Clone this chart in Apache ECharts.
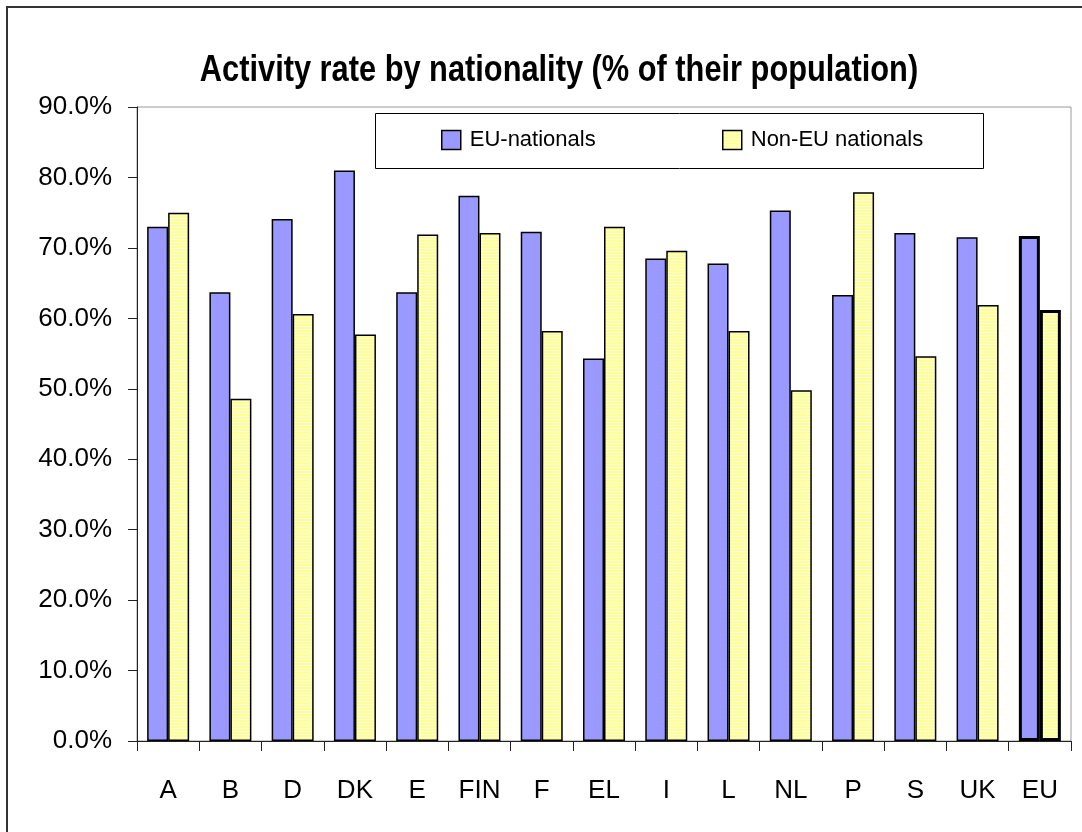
<!DOCTYPE html>
<html>
<head>
<meta charset="utf-8">
<script src="https://cdn.jsdelivr.net/npm/echarts@6/dist/echarts.min.js"></script>
<style>
html,body{margin:0;padding:0;background:#fff;}
#chart{width:1082px;height:832px;}
</style>
</head>
<body>
<div id="chart"></div>
<script>
var categories = ['A','B','D','DK','E','FIN','F','EL','I','L','NL','P','S','UK','EU'];
var euNationals = [73.0,63.7,74.1,81.0,63.7,77.4,72.3,54.3,68.5,67.8,75.3,63.3,72.1,71.5,71.7];
var nonEuNationals = [75.0,48.6,60.6,57.7,71.9,72.1,58.2,73.0,69.6,58.2,49.8,77.9,54.6,61.9,61.2];
var yTicks = [0,10,20,30,40,50,60,70,80,90];
var titleText = 'Activity rate by nationality (% of their population)';

var stripe = document.createElement('canvas');
stripe.width = 4; stripe.height = 3;
var sc = stripe.getContext('2d');
sc.fillStyle = '#FFFF99'; sc.fillRect(0,0,4,3);
sc.fillStyle = '#FFFFD6'; sc.fillRect(0,2,4,1);

var blue = '#9999FF';
var yellowPattern = {image: stripe, repeat: 'repeat'};
var lastIdx = categories.length - 1;

function mkData(arr){
  return arr.map(function(v,i){
    if(i === lastIdx){ return {value:v, itemStyle:{borderWidth:3}}; }
    return v;
  });
}

var chart = echarts.init(document.getElementById('chart'));
var font = "'Liberation Sans', Arial, sans-serif";
chart.setOption({
  animation: false,
  legend: [
    {data:[{name:'EU-nationals', itemStyle:{color:blue}}], icon:'rect', left: 441, top: 129, padding:0, itemWidth:19, itemHeight:19,
     textStyle:{fontFamily:font, fontSize:22, color:'#000', padding:[0,0,0,4]}, itemStyle:{borderColor:'#000', borderWidth:1.5}},
    {data:[{name:'Non-EU nationals', itemStyle:{color:yellowPattern}}], icon:'rect', left: 722, top: 129, padding:0, itemWidth:19, itemHeight:19,
     textStyle:{fontFamily:font, fontSize:22, color:'#000', padding:[0,0,0,4]}, itemStyle:{borderColor:'#000', borderWidth:1.5}}
  ],
  grid: {left:137, right:11, top:107, bottom:91, show:true, borderColor:'#999', borderWidth:1, containLabel:false},
  xAxis: {
    type:'category', data: categories,
    axisLine:{lineStyle:{color:'#222', width:1}},
    axisTick:{show:true, length:10, lineStyle:{color:'#222'}},
    axisLabel:{fontFamily:font, fontSize:26, color:'#000', margin:37}
  },
  yAxis: {
    type:'value', min: yTicks[0], max: yTicks[yTicks.length-1], interval: 10,
    axisLine:{show:true, lineStyle:{color:'#222', width:1}},
    axisTick:{show:true, length:9, lineStyle:{color:'#222'}},
    splitLine:{show:false},
    axisLabel:{fontFamily:font, fontSize:26, color:'#000', margin:25, formatter:function(v){return v.toFixed(1)+'%';}}
  },
  graphic: [
    {type:'rect', shape:{x:7, y:7, width:1100, height:850}, style:{fill:null, stroke:'#333', lineWidth:2}, silent:true, z:-1},
    {type:'rect', shape:{x:375.5, y:113.5, width:608, height:55}, style:{fill:'#fff', stroke:'#000', lineWidth:1}, silent:true, z:0},
    {type:'text', x:559, y:71, scaleX:0.855, scaleY:1, silent:true,
     style:{text:titleText, font:"bold 36px 'Liberation Sans', Arial, sans-serif", fill:'#000', textAlign:'center', textVerticalAlign:'middle'}}
  ],
  series: [
    {name:'EU-nationals', type:'bar', data: mkData(euNationals), barWidth:21, barGap:'0%',
     itemStyle:{color:blue, borderColor:'#000', borderWidth:1.5}},
    {name:'Non-EU nationals', type:'bar', data: mkData(nonEuNationals), barWidth:21, barGap:'0%',
     itemStyle:{color:yellowPattern, borderColor:'#000', borderWidth:1.5}}
  ]
});
</script>
</body>
</html>
